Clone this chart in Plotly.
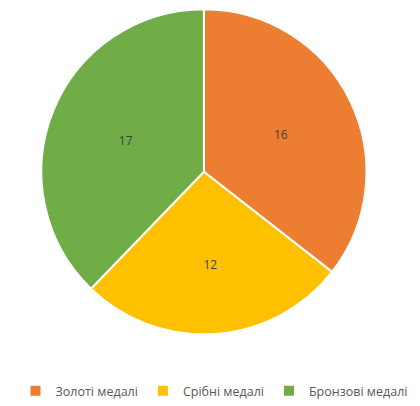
import plotly.graph_objects as go

# дані діаграми
labels = ["Золоті медалі", "Срібні медалі", "Бронзові медалі"]
values = [16, 12, 17]
colors = ["#ED7D31", "#FFC000", "#70AD47"]

fig = go.Figure(go.Pie(
    labels=labels,
    values=values,
    marker=dict(colors=colors, line=dict(color="white", width=2)),
    sort=False,
    direction="clockwise",
    rotation=0,
    textinfo="value",
    textposition="inside",
    insidetextorientation="horizontal",
    textfont=dict(family="Open Sans", size=12, color="#404040"),
    domain=dict(x=[0.080, 0.871], y=[0.178, 0.997]),
    hoverinfo="label+value",
))

# сторінка має відступ 8px, тому фігура трохи менша за вікно
fig.update_layout(
    width=412,
    height=398,
    margin=dict(l=0, r=0, t=0, b=0),
    paper_bgcolor="white",
    showlegend=True,
    legend=dict(
        orientation="h",
        x=0.5, xanchor="center",
        y=0.035, yanchor="middle",
        font=dict(family="Open Sans", size=12.5, color="#595959"),
        itemwidth=30,
        tracegroupgap=0,
        traceorder="normal",
    ),
)

fig.write_html("out.html")
